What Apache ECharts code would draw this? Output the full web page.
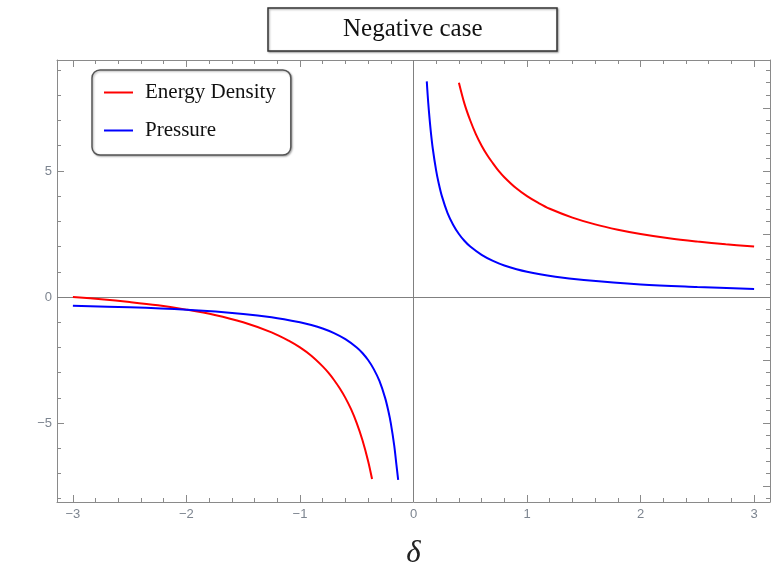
<!DOCTYPE html>
<html>
<head>
<meta charset="utf-8">
<script src="https://cdn.jsdelivr.net/npm/echarts@6/dist/echarts.min.js"></script>
<style>
  html, body { margin: 0; padding: 0; background: #fff; }
  #chart { width: 771px; height: 569px; }
</style>
</head>
<body>
<div id="chart"></div>
<script>
// values
const rhoPosX = [0.40, 0.45, 0.50, 0.55, 0.60, 0.65, 0.70, 0.75, 0.80, 0.90, 1.00, 1.10, 1.20, 1.40, 1.60, 1.80, 2.00, 2.25, 2.50, 2.75, 3.00];
const rhoPosY = [8.50, 7.65, 7.00, 6.45, 6.00, 5.62, 5.30, 5.00, 4.75, 4.33, 4.00, 3.73, 3.50, 3.15, 2.88, 2.67, 2.50, 2.33, 2.20, 2.09, 2.00];
const rhoNegX = [-3.00, -2.75, -2.50, -2.25, -2.00, -1.75, -1.50, -1.25, -1.10, -1.00, -0.90, -0.80, -0.75, -0.70, -0.65, -0.60, -0.55, -0.50, -0.45, -0.40, -0.365];
const rhoNegY = [0.00, -0.09, -0.20, -0.33, -0.50, -0.71, -1.00, -1.40, -1.73, -2.00, -2.33, -2.75, -3.00, -3.29, -3.62, -4.00, -4.45, -5.00, -5.67, -6.50, -7.22];

const pPosX = [0.117, 0.125, 0.135, 0.15, 0.17, 0.20, 0.22, 0.25, 0.30, 0.35, 0.40, 0.45, 0.50, 0.60, 0.70, 0.80, 1.00, 1.25, 1.50, 2.00, 2.50, 3.00];
const pPosY = [8.55, 8.00, 7.41, 6.67, 5.88, 5.00, 4.55, 4.00, 3.33, 2.86, 2.50, 2.22, 2.00, 1.67, 1.43, 1.25, 1.00, 0.80, 0.67, 0.50, 0.40, 0.32];
const pNegX = [-3.00, -2.50, -2.00, -1.50, -1.25, -1.00, -0.90, -0.80, -0.70, -0.60, -0.50, -0.45, -0.40, -0.35, -0.30, -0.25, -0.22, -0.20, -0.17, -0.15, -0.135];
const pNegY = [-0.35, -0.41, -0.51, -0.67, -0.80, -1.00, -1.11, -1.25, -1.43, -1.67, -2.00, -2.22, -2.50, -2.86, -3.33, -4.00, -4.55, -5.00, -5.88, -6.67, -7.25];

// tick positions
const xMajor = [-3, -2, -1, 0, 1, 2, 3];
const xMinor = [-3, -2.8, -2.6, -2.4, -2.2, -2, -1.8, -1.6, -1.4, -1.2, -1, -0.8, -0.6, -0.4, -0.2, 0,
                0.2, 0.4, 0.6, 0.8, 1, 1.2, 1.4, 1.6, 1.8, 2, 2.2, 2.4, 2.6, 2.8, 3];
const yLeftMajor = [-5, 0, 5];
const yLeftMinor = [-8, -7, -6, -5, -4, -3, -2, -1, 0, 1, 2, 3, 4, 5, 6, 7, 8, 9];
const yRightMajor = [-7.5, -5, -2.5, 0, 2.5, 5, 7.5];
const yRightMinor = [-8, -7.5, -7, -6.5, -6, -5.5, -5, -4.5, -4, -3.5, -3, -2.5, -2, -1.5, -1, -0.5, 0,
                     0.5, 1, 1.5, 2, 2.5, 3, 3.5, 4, 4.5, 5, 5.5, 6, 6.5, 7, 7.5, 8, 8.5, 9];

const xMin = -3.14, xMax = 3.14;
const yMin = -8.13, yMax = 9.4;

const frameColor = '#8a8a8a';
const labelColor = '#7d8590';

const zip = (xs, ys) => xs.map((x, i) => [x, ys[i]]);
const minus = v => String(v).replace('-', '\u2212');

const xAxisOf = (pos, ticks, len, labels, line) => ({
  type: 'value',
  position: pos,
  min: xMin,
  max: xMax,
  splitLine: { show: false },
  axisLine: { show: line, onZero: false, lineStyle: { color: frameColor, width: 1 } },
  axisTick: { show: true, inside: true, length: len, customValues: ticks, lineStyle: { color: frameColor } },
  axisLabel: labels ? {
    show: true, customValues: xMajor, margin: 6, color: labelColor,
    fontFamily: 'Liberation Sans', fontSize: 13, formatter: minus
  } : { show: false }
});

const yAxisOf = (pos, ticks, len, labels, line) => ({
  type: 'value',
  position: pos,
  min: yMin,
  max: yMax,
  splitLine: { show: false },
  axisLine: { show: line, onZero: false, lineStyle: { color: frameColor, width: 1 } },
  axisTick: { show: true, inside: true, length: len, customValues: ticks, lineStyle: { color: frameColor } },
  axisLabel: labels ? {
    show: true, customValues: yLeftMajor, margin: 5, color: labelColor,
    fontFamily: 'Liberation Sans', fontSize: 13, formatter: minus
  } : { show: false }
});

const lineSeries = (name, color, data, extra) => Object.assign({
  name: name,
  type: 'line',
  data: data,
  xAxisIndex: 0,
  yAxisIndex: 0,
  symbol: 'none',
  smooth: 0.35,
  lineStyle: { color: color, width: 2 },
  itemStyle: { color: color },
  z: 5
}, extra || {});

const getOption = () => {
  return {
    animation: false,
    title: {
      text: 'Negative case',
      left: 268,
      top: 8,
      padding: [9, 75],
      borderColor: '#333',
      borderWidth: 1.5,
      backgroundColor: '#fff',
      shadowColor: 'rgba(0,0,0,0.35)',
      shadowBlur: 2,
      shadowOffsetX: 1,
      shadowOffsetY: 1,
      textStyle: { fontFamily: 'Liberation Serif', fontSize: 25, fontWeight: 'normal', color: '#111' }
    },
    legend: {
      orient: 'vertical',
      left: 92,
      top: 70,
      padding: [12, 15, 14, 12],
      itemGap: 17,
      itemWidth: 29,
      itemHeight: 2,
      icon: 'rect',
      borderColor: '#555',
      borderWidth: 1.5,
      borderRadius: 8,
      backgroundColor: '#fff',
      shadowColor: 'rgba(0,0,0,0.3)',
      shadowBlur: 2,
      shadowOffsetX: 1,
      shadowOffsetY: 1,
      data: ['Energy Density', 'Pressure'],
      textStyle: { fontFamily: 'Liberation Serif', fontSize: 21, color: '#111', padding: [0, 0, 0, 7] }
    },
    grid: { left: 57, right: 1, top: 60, bottom: 67, outerBoundsMode: 'none' },
    xAxis: [
      Object.assign(xAxisOf('bottom', xMajor, 7, true, true), {
        name: 'δ',
        nameLocation: 'middle',
        nameGap: 36,
        nameTextStyle: { fontFamily: 'Liberation Serif', fontStyle: 'italic', fontSize: 31, color: '#222' }
      }),
      xAxisOf('bottom', xMinor, 4, false, false),
      xAxisOf('top', xMajor, 7, false, true),
      xAxisOf('top', xMinor, 4, false, false)
    ],
    yAxis: [
      yAxisOf('left', yLeftMajor, 7, true, true),
      yAxisOf('left', yLeftMinor, 4, false, false),
      yAxisOf('right', yRightMajor, 7, false, true),
      yAxisOf('right', yRightMinor, 4, false, false)
    ],
    series: [
      lineSeries('Energy Density', '#ff0000', zip(rhoNegX, rhoNegY), {
        markLine: {
          silent: true,
          symbol: 'none',
          label: { show: false },
          lineStyle: { color: '#808080', width: 1, type: 'solid' },
          data: [{ yAxis: 0 }, { xAxis: 0 }],
          z: 2
        }
      }),
      lineSeries('Energy Density', '#ff0000', zip(rhoPosX, rhoPosY)),
      lineSeries('Pressure', '#0000ff', zip(pNegX, pNegY)),
      lineSeries('Pressure', '#0000ff', zip(pPosX, pPosY))
    ]
  };
};

let chart;
const initChart = () => {
  chart = echarts.init(document.getElementById('chart'));
  chart.setOption(getOption());
};

document.addEventListener('DOMContentLoaded', function () {
  initChart();
});

window.addEventListener('resize', function () {
  chart.resize();
});
</script>
</body>
</html>
